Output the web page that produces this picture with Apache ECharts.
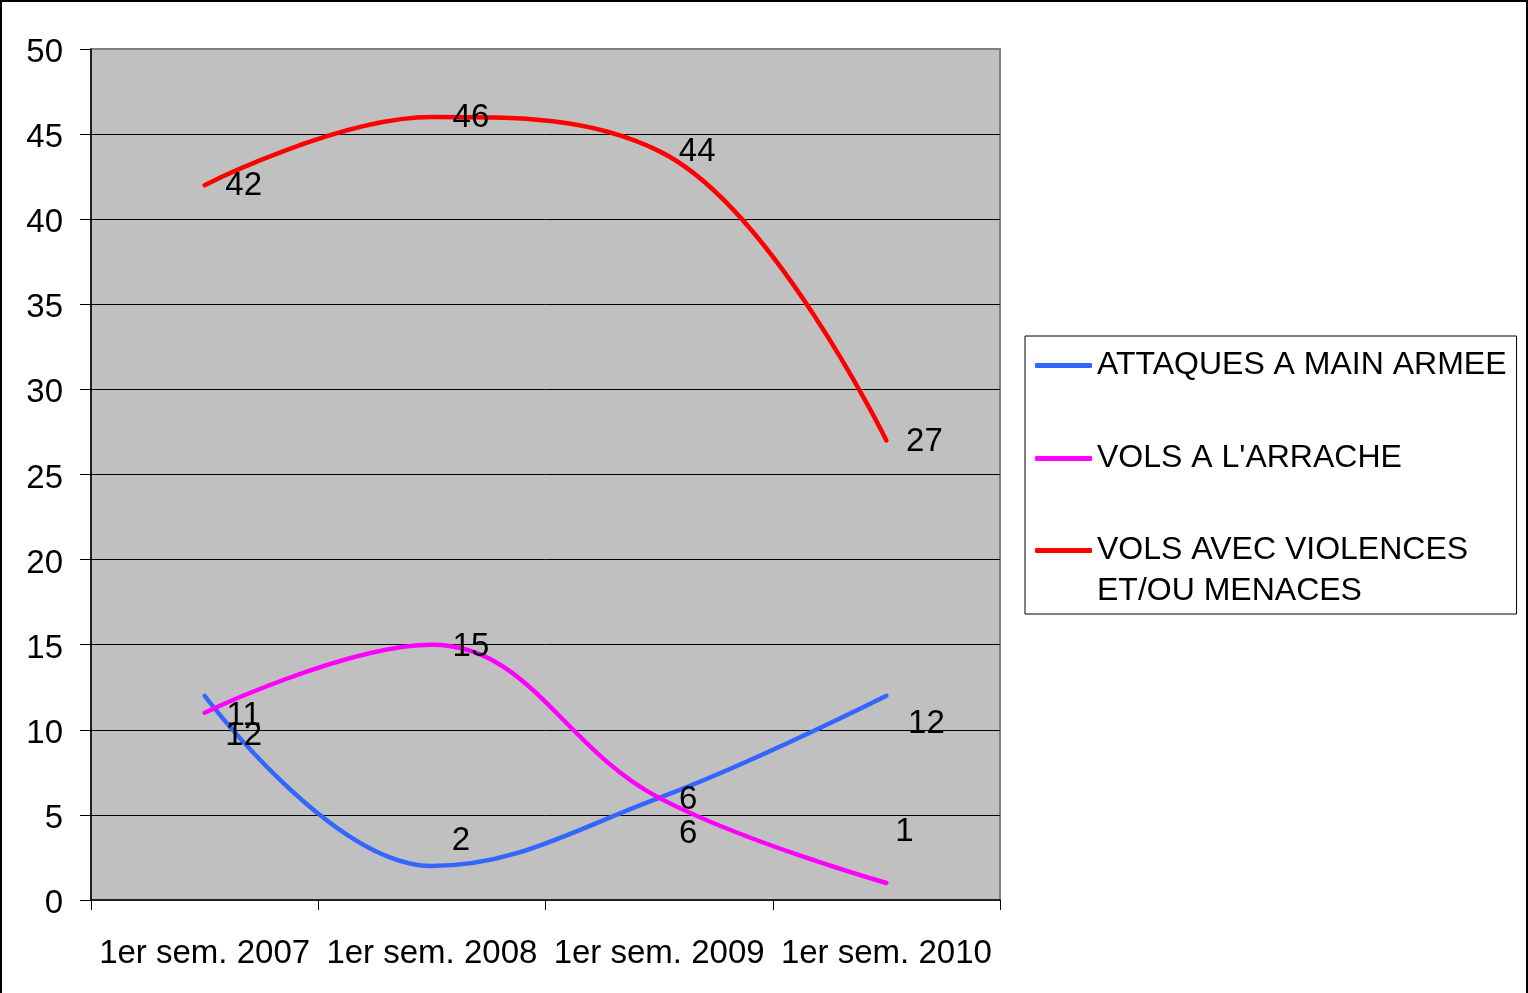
<!DOCTYPE html>
<html>
<head>
<meta charset="utf-8">
<script src="https://cdn.jsdelivr.net/npm/echarts@6/dist/echarts.min.js"></script>
<style>
  html, body { margin: 0; padding: 0; background: #fff; }
  #chart { width: 1528px; height: 993px; }
  #frame { position: absolute; left: 0; top: 0; width: 1528px; height: 993px;
           box-sizing: border-box; border: 2px solid #000; border-bottom: none; pointer-events: none; }
</style>
</head>
<body>
<div id="chart"></div>
<div id="frame"></div>
<script>
// categories + values
var categories = ['1er sem. 2007', '1er sem. 2008', '1er sem. 2009', '1er sem. 2010'];
var attaques = [12, 2, 6, 12];
var arrache = [11, 15, 6, 1];
var violences = [42, 46, 44, 27];

var names = ['ATTAQUES A MAIN ARMEE', "VOLS A L'ARRACHE", 'VOLS AVEC VIOLENCES ET/OU MENACES'];

// where each value label sits, relative to its point (px)
var attaquesShift = [[39, 40], [29, -25], [29, 2], [40, 28]];
var arracheShift = [[39, 3], [39, 2], [29, 36], [18, -51]];
var violencesShift = [[39, 1], [39, 1], [38, 1], [38, 1]];

var font = 'Liberation Sans, Arial, sans-serif';

function withLabels(values, shifts) {
  return values.map(function (v, i) {
    return { value: v, label: { offset: shifts[i] } };
  });
}

function lineSeries(name, color, values, shifts) {
  return {
    name: name,
    type: 'line',
    smooth: 0.4,
    symbol: 'circle',
    symbolSize: 0.1,
    lineStyle: { color: color, width: 4.5, cap: 'round' },
    itemStyle: { color: color },
    label: {
      show: true,
      position: 'inside',
      color: '#000',
      fontFamily: font,
      fontSize: 33
    },
    emphasis: { disabled: true },
    data: withLabels(values, shifts)
  };
}

var legendText = { color: '#000', fontFamily: font, fontSize: 32, lineHeight: 41 };

var chart = echarts.init(document.getElementById('chart'));

var option = {
  animation: false,
  backgroundColor: '#fff',
  grid: {
    left: 91, top: 49, right: 528, bottom: 93,
    show: true,
    backgroundColor: '#c0c0c0',
    borderColor: '#808080',
    borderWidth: 2
  },
  legend: [
    {
      // framed box, first two entries
      orient: 'vertical',
      left: 1025,
      top: 336,
      padding: [9, 10, 135, 10],
      itemGap: 52,
      itemWidth: 57,
      itemHeight: 5,
      icon: 'roundRect',
      backgroundColor: '#fff',
      borderColor: '#000',
      borderWidth: 1,
      textStyle: legendText,
      data: [names[0], names[1]]
    },
    {
      // third entry: first line level with its swatch
      orient: 'vertical',
      left: 1025,
      top: 489,
      padding: [0, 10, 0, 10],
      itemWidth: 57,
      itemHeight: 5,
      icon: 'roundRect',
      textStyle: legendText,
      formatter: function (n) { return ' \n' + n.replace(' ET/OU', '\nET/OU'); },
      data: [names[2]]
    }
  ],
  xAxis: {
    type: 'category',
    data: categories,
    boundaryGap: true,
    axisLine: { lineStyle: { color: '#000', width: 1.5 } },
    axisTick: { show: true, interval: 0, length: 10, lineStyle: { color: '#000' } },
    axisLabel: { interval: 0, color: '#000', fontFamily: font, fontSize: 33, margin: 37 }
  },
  yAxis: {
    type: 'value',
    min: 0,
    max: 50,
    interval: 5,
    axisLine: { show: true, lineStyle: { color: '#000', width: 1.5 } },
    axisTick: { show: true, length: 11, lineStyle: { color: '#000' } },
    axisLabel: { color: '#000', fontFamily: font, fontSize: 33, margin: 28, verticalAlign: 'top', lineHeight: 8 },
    splitLine: { show: true, showMinLine: false, showMaxLine: false, lineStyle: { color: '#000', width: 1 } }
  },
  series: [
    lineSeries(names[0], '#3366ff', attaques, attaquesShift),
    lineSeries(names[1], '#ff00ff', arrache, arracheShift),
    lineSeries(names[2], '#ff0000', violences, violencesShift)
  ]
};

chart.setOption(option);
</script>
</body>
</html>
